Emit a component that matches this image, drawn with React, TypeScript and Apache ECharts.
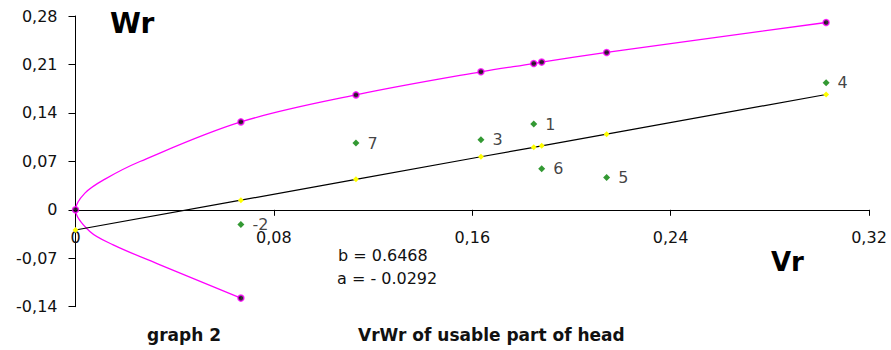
import React, { useEffect, useRef } from "react";
import * as echarts from "echarts";

// Pink curve (lower branch -> origin -> upper branch)
const curveX = [0.0667, 0.0341, 0.0152, 0.0058, 0, 0.0038, 0.0119, 0.026, 0.0667, 0.1131, 0.1635, 0.1848, 0.188, 0.2142, 0.3027];
const curveY = [-0.1276, -0.0795, -0.0506, -0.0314, 0, 0.0241, 0.0444, 0.0698, 0.127, 0.166, 0.1994, 0.2113, 0.2134, 0.2273, 0.2706];

// Pink marked points
const pinkX = [0.0667, 0, 0.0667, 0.1131, 0.1635, 0.1848, 0.188, 0.2142, 0.3027];
const pinkY = [-0.1276, 0, 0.127, 0.166, 0.1994, 0.2113, 0.2134, 0.2273, 0.2706];

// Regression line points (yellow)
const fitX = [0, 0.0667, 0.1131, 0.1635, 0.1848, 0.188, 0.2142, 0.3027];
const fitY = [-0.0292, 0.0139, 0.044, 0.0766, 0.0903, 0.0924, 0.1093, 0.1666];

// Green sample points with labels
const sampleX = [0.0667, 0.1131, 0.1635, 0.1848, 0.188, 0.2142, 0.3027];
const sampleY = [-0.0212, 0.0964, 0.1011, 0.1238, 0.0592, 0.0467, 0.1835];
const sampleLabels = ["-2", "7", "3", "1", "6", "5", "4"];

const FONT = "DejaVu Sans";

const fmt = (v: number) => (Math.abs(v) < 1e-9 ? "0" : v.toFixed(2).replace(".", ","));

export default function App() {
  const ref = useRef<HTMLDivElement>(null);
  useEffect(() => {
    if (!ref.current) return;
    const chart = echarts.init(ref.current, null, { renderer: "svg" });
    const zip = (xs: number[], ys: number[]) => xs.map((x, i) => [x, ys[i]]);
    chart.setOption({
      animation: false,
      backgroundColor: "#fff",
      grid: { left: 75.5, right: 22, top: 16, bottom: 43.3, containLabel: false, outerBoundsMode: "none" },
      xAxis: {
        type: "value",
        min: 0,
        max: 0.32,
        interval: 0.08,
        axisLine: { show: true, onZero: true, lineStyle: { color: "#000", width: 1 } },
        axisTick: { show: true, length: 6, lineStyle: { color: "#000" } },
        axisLabel: { margin: -77, color: "#111", fontFamily: FONT, fontSize: 16, formatter: fmt, verticalAlign: "top" },
        splitLine: { show: false },
      },
      yAxis: {
        type: "value",
        min: -0.14,
        max: 0.28,
        interval: 0.07,
        axisLine: { show: true, lineStyle: { color: "#000", width: 1 } },
        axisTick: { show: true, length: 7, lineStyle: { color: "#000" } },
        axisLabel: { margin: 18, color: "#111", fontFamily: FONT, fontSize: 16, formatter: fmt },
        splitLine: { show: false },
      },
      series: [
        {
          type: "line",
          data: zip(curveX, curveY),
          smooth: 0.35,
          showSymbol: false,
          symbol: "none",
          lineStyle: { color: "#ff00ff", width: 1.3 },
          z: 2,
        },
        {
          type: "line",
          data: zip(fitX, fitY),
          symbol: "diamond",
          symbolSize: 6,
          itemStyle: { color: "#ffff00" },
          lineStyle: { color: "#000", width: 1.2 },
          z: 3,
        },
        {
          type: "scatter",
          data: zip(pinkX, pinkY),
          symbol: "circle",
          symbolSize: 6,
          itemStyle: { color: "#000", borderColor: "#ff00ff", borderWidth: 1.5 },
          z: 4,
        },
        {
          type: "scatter",
          data: sampleX.map((x, i) => ({ value: [x, sampleY[i]], name: sampleLabels[i] })),
          symbol: "diamond",
          symbolSize: 7,
          itemStyle: { color: "#008000" },
          label: {
            show: true,
            position: "right",
            distance: 8,
            formatter: (p: any) => p.name,
            color: "#111",
            fontFamily: FONT,
            fontSize: 16,
          },
          z: 5,
        },
      ],
      graphic: [
        { type: "text", left: 110, top: 9, style: { text: "Wr", font: `bold 28px "${FONT}"`, fill: "#000" } },
        { type: "text", left: 771, top: 249, style: { text: "Vr", font: `bold 26px "${FONT}"`, fill: "#000" } },
        { type: "text", left: 338, top: 247, style: { text: "b = 0.6468", font: `16px "${FONT}"`, fill: "#111" } },
        { type: "text", left: 337, top: 270, style: { text: "a = - 0.0292", font: `16px "${FONT}"`, fill: "#111" } },
        { type: "text", left: 147, top: 326, style: { text: "graph 2", font: `bold 17px "${FONT}"`, fill: "#111" } },
        { type: "text", left: 358, top: 326, style: { text: "VrWr of usable part of head", font: `bold 17px "${FONT}"`, fill: "#111" } },
      ],
    });
    return () => chart.dispose();
  }, []);
  return <div ref={ref} style={{ position: "fixed", left: 0, top: 0, width: 891, height: 350 }} />;
}
